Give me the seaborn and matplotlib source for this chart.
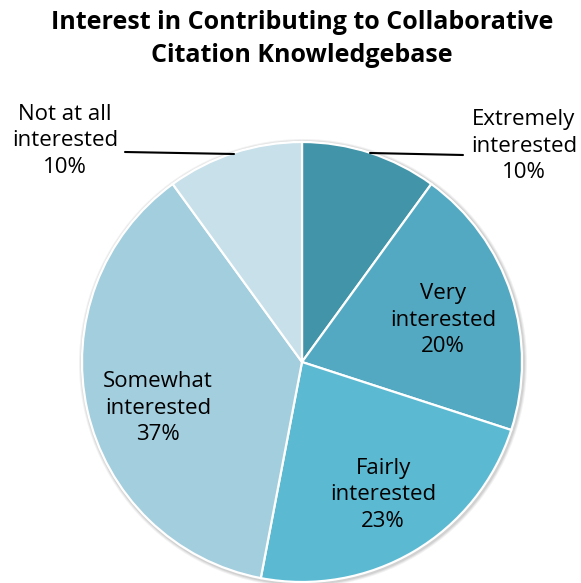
import matplotlib
matplotlib.use("Agg")
import matplotlib.pyplot as plt
import seaborn as sns
from matplotlib.patches import Circle

sns.set_theme(style="white")
plt.rcParams['font.family'] = ['Open Sans', 'DejaVu Sans']

categories = ["Extremely\ninterested", "Very\ninterested", "Fairly\ninterested",
              "Somewhat\ninterested", "Not at all\ninterested"]
shares = [10, 20, 23, 37, 10]
colors = ["#4295a8", "#52a9c1", "#5bbad2", "#a2cede", "#c7e0ea"]
title = "Interest in Contributing to Collaborative\nCitation Knowledgebase"

W, H = 581, 583
fig = plt.figure(figsize=(W / 100, H / 100), dpi=100)
ax = fig.add_axes([0, 0, 1, 1])
ax.set_xlim(0, W)
ax.set_ylim(0, H)
ax.set_aspect("equal")
ax.axis("off")

cx, cy, r = 302, H - 362, 220

# soft drop shadow under the pie
for k, a in [(4, 0.05), (3, 0.06), (2, 0.08)]:
    ax.add_patch(Circle((cx + 1, cy - 1), r + k, color="black", alpha=a, lw=0, zorder=0))

wedges, _ = ax.pie(shares, colors=colors, startangle=90, counterclock=False,
                   center=(cx, cy), radius=r, frame=True,
                   wedgeprops=dict(edgecolor="white", linewidth=1.6))
for w in wedges:
    w.set_zorder(1)
ax.set_xlim(0, W)
ax.set_ylim(0, H)
ax.axis("off")

fs = 16
ls = 1.37
inside = {1: (443, 320), 2: (383, 495), 3: (158, 408)}
for i, (x, y) in inside.items():
    ax.text(x, H - y, f"{categories[i]}\n{shares[i]}%", ha="center", va="center",
            fontsize=fs, linespacing=ls, color="black", zorder=3)

# outside labels with leader lines
ax.text(524, H - 146, f"{categories[0]}\n{shares[0]}%", ha="center", va="center",
        fontsize=fs, linespacing=ls, color="black", zorder=3)
ax.plot([370, 463], [H - 153, H - 155], color="black", lw=1.5, zorder=3)

ax.text(65, H - 141, f"{categories[4]}\n{shares[4]}%", ha="center", va="center",
        fontsize=fs, linespacing=ls, color="black", zorder=3)
ax.plot([125, 234], [H - 152, H - 154], color="black", lw=1.5, zorder=3)

ax.text(302, H - 39, title, ha="center", va="center", fontsize=18,
        fontweight="bold", linespacing=1.38, color="black")

fig.savefig("out.png", dpi=100)
